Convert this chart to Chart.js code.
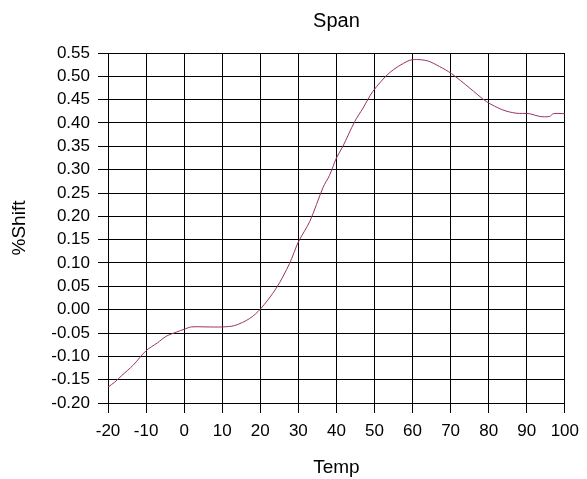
<!DOCTYPE html>
<html><head><meta charset="utf-8">
<title>Span</title>
<script src="https://cdn.jsdelivr.net/npm/chart.js@4"></script>
<style>
  body { margin: 0; background: #fff; }
  #wrap { width: 587px; height: 479px; }
</style>
</head>
<body>
<div id="wrap"><canvas id="spanChart" width="587" height="479"></canvas></div>
<script>
  // readings
  const temps = [-20, -18.2, -16.5, -13.4, -10, -7, -4.7, -2, 0, 1.9, 6, 10, 13.3, 17.2, 20, 24.2, 27.7, 30, 33, 36.5, 38.2, 40, 41.7, 44.8, 47, 49.6, 54, 58.8, 61, 64, 67.1, 70.2, 75, 79.4, 83.7, 87.2, 90.7, 93.4, 96, 97, 100];
  const shift = [-0.166, -0.155, -0.142, -0.119, -0.088, -0.071, -0.057, -0.048, -0.042, -0.037, -0.037, -0.037, -0.034, -0.019, 0.001, 0.046, 0.099, 0.145, 0.189, 0.262, 0.288, 0.325, 0.35, 0.403, 0.432, 0.468, 0.508, 0.533, 0.536, 0.533, 0.521, 0.506, 0.475, 0.446, 0.428, 0.421, 0.42, 0.414, 0.414, 0.42, 0.42];

  const ctx = document.getElementById('spanChart').getContext('2d');
  const font = 'Liberation Sans, Arial, sans-serif';

  new Chart(ctx, {
    type: 'line',
    data: {
      datasets: [{
        data: temps.map((t, i) => ({ x: t, y: shift[i] })),
        borderColor: '#993366',
        borderWidth: 1,
        pointRadius: 0,
        tension: 0.3,
        fill: false
      }]
    },
    options: {
      responsive: false,
      animation: false,
      layout: { padding: { left: 0, right: 22, top: 0, bottom: 0 } },
      plugins: {
        legend: { display: false },
        tooltip: { enabled: false },
        title: {
          display: true,
          fullSize: false,
          text: 'Span',
          color: '#000',
          font: { family: font, size: 20, weight: 'normal' },
          padding: { top: 9, bottom: 20 }
        }
      },
      scales: {
        x: {
          type: 'linear',
          min: -20, max: 100,
          ticks: { stepSize: 10, autoSkip: false, color: '#000', font: { family: font, size: 17 }, padding: 8, maxRotation: 0 },
          grid: { color: '#000', lineWidth: 1, tickLength: 10 },
          border: { color: '#000' },
          title: { display: true, text: 'Temp', color: '#000', font: { family: font, size: 19 }, padding: { top: 4, bottom: 0 } },
          afterFit: (s) => { s.height = 76; }
        },
        y: {
          min: -0.2, max: 0.55,
          ticks: { stepSize: 0.05, autoSkip: false, color: '#000', font: { family: font, size: 17 }, padding: 8,
                   callback: (v) => v.toFixed(2) },
          grid: { color: '#000', lineWidth: 1, tickLength: 10 },
          border: { color: '#000' },
          title: { display: true, text: '%Shift', color: '#000', font: { family: font, size: 19 }, padding: { top: 8, bottom: 0 } },
          afterFit: (s) => { s.width = 108; }
        }
      }
    }
  });
</script>
</body></html>
